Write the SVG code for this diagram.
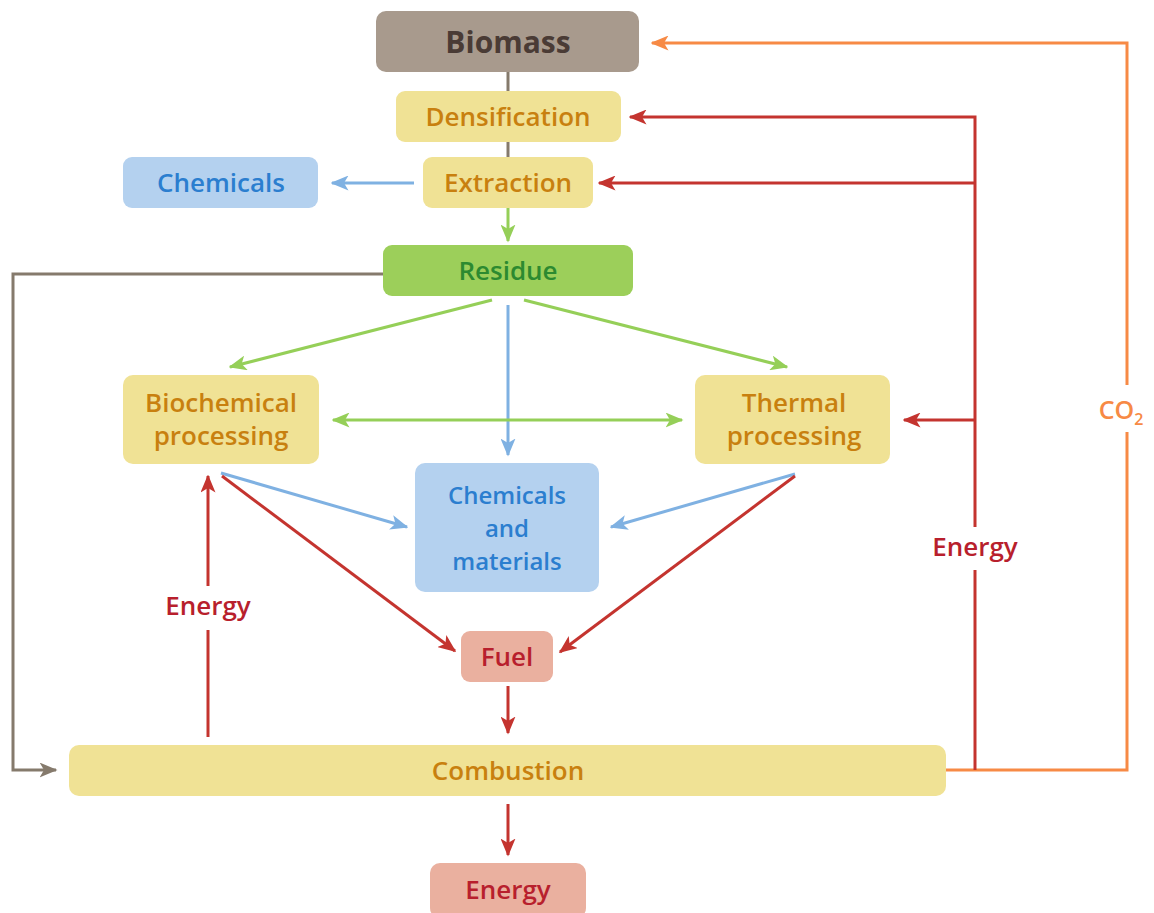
<svg xmlns="http://www.w3.org/2000/svg" width="1154" height="913" viewBox="0 0 1154 913">
<defs>
<style>
text{font-family:"Open Sans","Noto Sans","Liberation Sans",sans-serif;font-weight:700;text-anchor:middle;}
.t{font-size:26px;font-weight:600;}
.yel{fill:#f0e295;}
.ytx{fill:#c8800f;}
.l{fill:none;stroke-width:3;}
.red{stroke:#c4342f;}
.grn{stroke:#95cf58;}
.blu{stroke:#7fb1e2;}
.gry{stroke:#857a6c;}
.org{stroke:#f78a45;}
</style>
<marker id="ar" viewBox="0 0 12 10" refX="11" refY="5" markerWidth="6" markerHeight="5" orient="auto" markerUnits="strokeWidth"><path d="M0,0 L12,5 L0,10 L3,5 z" fill="#c4342f"/></marker>
<marker id="ag" viewBox="0 0 12 10" refX="11" refY="5" markerWidth="6" markerHeight="5" orient="auto-start-reverse" markerUnits="strokeWidth"><path d="M0,0 L12,5 L0,10 L3,5 z" fill="#95cf58"/></marker>
<marker id="ab" viewBox="0 0 12 10" refX="11" refY="5" markerWidth="6" markerHeight="5" orient="auto" markerUnits="strokeWidth"><path d="M0,0 L12,5 L0,10 L3,5 z" fill="#7fb1e2"/></marker>
<marker id="ay" viewBox="0 0 12 10" refX="11" refY="5" markerWidth="6" markerHeight="5" orient="auto" markerUnits="strokeWidth"><path d="M0,0 L12,5 L0,10 L3,5 z" fill="#857a6c"/></marker>
<marker id="ao" viewBox="0 0 12 10" refX="11" refY="5" markerWidth="6" markerHeight="5" orient="auto" markerUnits="strokeWidth"><path d="M0,0 L12,5 L0,10 L3,5 z" fill="#f78a45"/></marker>
</defs>
<rect width="1154" height="913" fill="#fff"/>
<g id="connectors">
<line class="l gry" x1="508" y1="72" x2="508" y2="91"/>
<line class="l gry" x1="508" y1="142" x2="508" y2="157"/>
<line class="l grn" x1="508" y1="208" x2="508" y2="241" marker-end="url(#ag)"/>
<line class="l blu" x1="414" y1="183" x2="332" y2="183" marker-end="url(#ab)"/>
<polyline class="l gry" points="383,274 13,274 13,770 56,770" marker-end="url(#ay)"/>
<line class="l grn" x1="492" y1="300" x2="230" y2="367" marker-end="url(#ag)"/>
<line class="l grn" x1="524" y1="300" x2="787" y2="367" marker-end="url(#ag)"/>
<line class="l blu" x1="508" y1="305" x2="508" y2="455" marker-end="url(#ab)"/>
<line class="l grn" x1="333" y1="420" x2="682" y2="420" marker-start="url(#ag)" marker-end="url(#ag)"/>
<line class="l blu" x1="221" y1="473" x2="407" y2="527" marker-end="url(#ab)"/>
<line class="l blu" x1="795" y1="474" x2="611" y2="527" marker-end="url(#ab)"/>
<line class="l red" x1="222" y1="476" x2="455" y2="651" marker-end="url(#ar)"/>
<line class="l red" x1="795" y1="476" x2="560" y2="652" marker-end="url(#ar)"/>
<line class="l red" x1="508" y1="686" x2="508" y2="733" marker-end="url(#ar)"/>
<line class="l red" x1="508" y1="804" x2="508" y2="855" marker-end="url(#ar)"/>
<line class="l red" x1="208" y1="737" x2="208" y2="630"/>
<line class="l red" x1="208" y1="586" x2="208" y2="476" marker-end="url(#ar)"/>
<polyline class="l org" points="946,770 1127,770 1127,432"/>
<polyline class="l org" points="1127,385 1127,43 652,43" marker-end="url(#ao)"/>
<line class="l red" x1="975" y1="770" x2="975" y2="570"/>
<polyline class="l red" points="975,527 975,117 630,117" marker-end="url(#ar)"/>
<line class="l red" x1="975" y1="183" x2="599" y2="183" marker-end="url(#ar)"/>
<line class="l red" x1="975" y1="420" x2="904" y2="420" marker-end="url(#ar)"/>
<text x="208" y="615" class="t" fill="#b81f2d">Energy</text>
<text x="975" y="556" class="t" fill="#b81f2d">Energy</text>
<text x="1121" y="419" font-size="25" fill="#f78a45" style="font-weight:600">CO<tspan font-size="16" dy="6">2</tspan></text>
</g>
<g id="biomass"><rect x="376" y="11" width="263" height="61" rx="10" fill="#a89a8d"/><text x="508" y="53" font-size="30" fill="#4a3b35">Biomass</text></g>
<g id="densification"><rect x="396" y="91" width="225" height="51" rx="9" class="yel"/><text x="508" y="126" class="t ytx">Densification</text></g>
<g id="extraction"><rect x="423" y="157" width="170" height="51" rx="9" class="yel"/><text x="508" y="192" class="t ytx">Extraction</text></g>
<g id="chemicals"><rect x="123" y="157" width="195" height="51" rx="9" fill="#b4d1ef"/><text x="221" y="192" class="t" fill="#2b7ecf">Chemicals</text></g>
<g id="residue"><rect x="383" y="245" width="250" height="51" rx="9" fill="#9ccf5a"/><text x="508" y="280" class="t" fill="#2c8a30">Residue</text></g>
<g id="biochemical"><rect x="123" y="375" width="196" height="89" rx="10" class="yel"/><text x="221" y="412" class="t ytx">Biochemical</text><text x="221" y="445" class="t ytx">processing</text></g>
<g id="thermal"><rect x="695" y="375" width="195" height="89" rx="10" class="yel"/><text x="794" y="412" class="t ytx">Thermal</text><text x="794" y="445" class="t ytx">processing</text></g>
<g id="chemmat"><rect x="415" y="463" width="184" height="129" rx="10" fill="#b4d1ef"/><text x="507" y="504" class="t" fill="#2b7ecf" style="font-size:24px">Chemicals</text><text x="507" y="537" class="t" fill="#2b7ecf" style="font-size:24px">and</text><text x="507" y="570" class="t" fill="#2b7ecf" style="font-size:24px">materials</text></g>
<g id="fuel"><rect x="461" y="631" width="92" height="51" rx="9" fill="#eab09f"/><text x="507" y="666" class="t" fill="#b81f2d">Fuel</text></g>
<g id="combustion"><rect x="69" y="745" width="877" height="51" rx="10" class="yel"/><text x="508" y="780" class="t ytx">Combustion</text></g>
<g id="energy"><rect x="430" y="863" width="156" height="55" rx="10" fill="#eab09f"/><text x="508" y="899" class="t" fill="#b81f2d">Energy</text></g>
</svg>
